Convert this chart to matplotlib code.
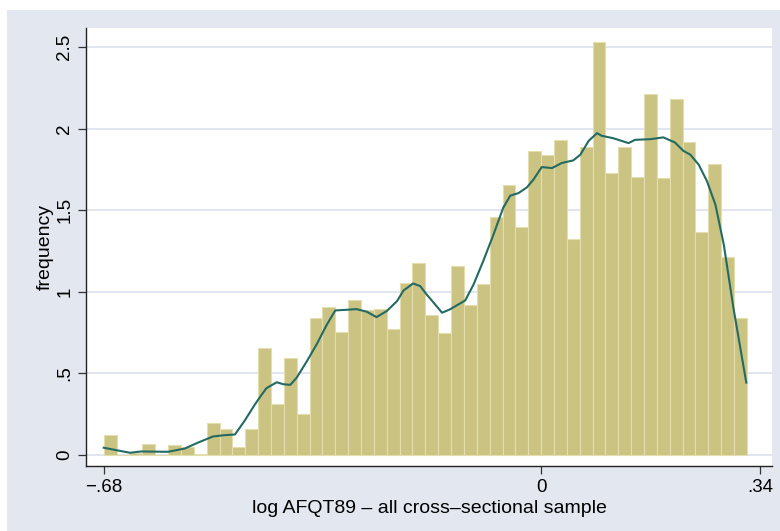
import numpy as np
import matplotlib
matplotlib.use('Agg')
import matplotlib.pyplot as plt
from matplotlib.patches import Rectangle

plt.rcParams['font.family'] = ['Liberation Sans', 'DejaVu Sans']

# histogram: 50 bins of width .02 starting at -.68
bin_start = -0.68
bin_width = 0.02
heights = [0.12, 0.0, 0.01, 0.065, 0.0, 0.06, 0.05, 0.005, 0.195, 0.16,
           0.05, 0.16, 0.655, 0.31, 0.595, 0.25, 0.84, 0.905, 0.755, 0.95,
           0.89, 0.895, 0.77, 1.055, 1.175, 0.855, 0.75, 1.16, 0.92, 1.05,
           1.46, 1.655, 1.395, 1.86, 1.835, 1.93, 1.325, 1.885, 2.53, 1.73,
           1.885, 1.705, 2.21, 1.70, 2.18, 1.915, 1.365, 1.78, 1.215, 0.84]

# kernel density line
kd_x = [-0.68, -0.658, -0.639, -0.622, -0.58, -0.554, -0.533, -0.51, -0.492,
        -0.476, -0.461, -0.445, -0.435, -0.427, -0.411, -0.401, -0.39, -0.38,
        -0.364, -0.349, -0.333, -0.32, -0.302, -0.287, -0.271, -0.256, -0.24,
        -0.224, -0.214, -0.199, -0.188, -0.178, -0.167, -0.154, -0.142, -0.118,
        -0.105, -0.09, -0.074, -0.059, -0.048, -0.035, -0.022, -0.012, 0.001,
        0.017, 0.032, 0.05, 0.061, 0.074, 0.087, 0.094, 0.112, 0.136, 0.146,
        0.17, 0.19, 0.208, 0.221, 0.232, 0.245, 0.258, 0.271, 0.284, 0.299, 0.319]
kd_y = [0.045, 0.028, 0.014, 0.022, 0.02, 0.04, 0.077, 0.114, 0.122,
        0.126, 0.21, 0.31, 0.367, 0.41, 0.446, 0.434, 0.43, 0.474,
        0.576, 0.678, 0.80, 0.886, 0.89, 0.894, 0.878, 0.845, 0.882,
        0.943, 1.008, 1.051, 1.035, 0.984, 0.933, 0.872, 0.892, 0.947,
        1.045, 1.188, 1.351, 1.514, 1.589, 1.605, 1.64, 1.687, 1.764,
        1.758, 1.789, 1.805, 1.84, 1.925, 1.972, 1.956, 1.941, 1.911, 1.931,
        1.935, 1.946, 1.915, 1.864, 1.84, 1.779, 1.677, 1.534, 1.29, 0.902, 0.444]

x_ticks = [-0.68, 0, 0.34]
x_labels = ['\u2212.68', '0', '.34']
y_ticks = [0, 0.5, 1, 1.5, 2, 2.5]
y_labels = ['0', '.5', '1', '1.5', '2', '2.5']

W, H = 780, 531
fig = plt.figure(figsize=(W / 100, H / 100), dpi=100, facecolor='white')
# stata-style outer background
fig.patches.append(Rectangle((7 / W, 0), 1 - 7 / W, 1 - 10 / H,
                             transform=fig.transFigure, facecolor='#e2e7f0',
                             edgecolor='none', zorder=-10))

ax = fig.add_axes([86 / W, 1 - 466 / H, (772 - 86) / W, (466 - 28) / H])
ax.set_facecolor('white')

lefts = bin_start + bin_width * np.arange(len(heights))
ax.bar(lefts, heights, width=bin_width, align='edge', color='#cbc382',
       edgecolor='#e4deae', linewidth=0.8, zorder=2)
ax.plot(kd_x, kd_y, color='#236b62', linewidth=1.5, zorder=3)

ax.set_xlim(-0.7076, 0.359)
ax.set_ylim(-0.067, 2.616)

ax.set_xticks(x_ticks)
ax.set_xticklabels(x_labels, fontsize=13.5)
ax.set_yticks(y_ticks)
ax.set_yticklabels(y_labels, fontsize=13.5, rotation=90, va='center')
ax.tick_params(direction='out', length=6, width=0.9, color='#333333', pad=3)

ax.grid(axis='y', color='#dde3ee', linewidth=1.3, zorder=1)
ax.set_axisbelow(True)

for side in ['top', 'right']:
    ax.spines[side].set_visible(False)
for side in ['left', 'bottom']:
    ax.spines[side].set_color('#222222')
    ax.spines[side].set_linewidth(1.0)

ax.set_xlabel('log AFQT89 \u2013 all cross\u2013sectional sample', fontsize=14, labelpad=3)
ax.set_ylabel('frequency', fontsize=14, labelpad=2)

fig.savefig('out.png', dpi=100, facecolor=fig.get_facecolor())
